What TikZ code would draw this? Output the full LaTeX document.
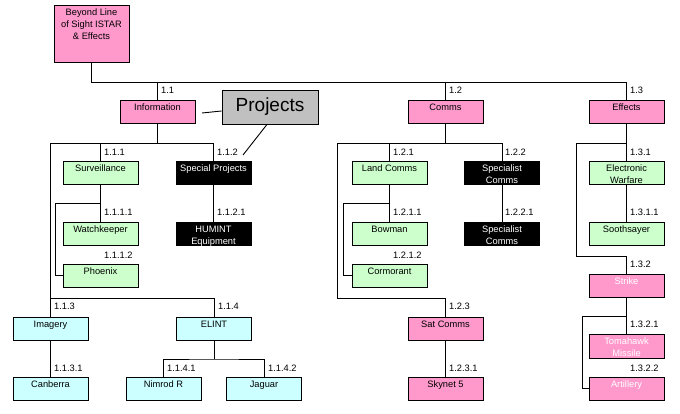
\documentclass[tikz,border=0pt]{standalone}
\usepackage{fontspec}
\setmainfont{Liberation Sans}
\definecolor{pinkc}{HTML}{FF99CC}
\definecolor{greenc}{HTML}{CCFFCC}
\definecolor{cyanc}{HTML}{CCFFFF}
\definecolor{grayc}{HTML}{C0C0C0}
\newcommand{\bxt}[2][23pt]{\parbox[c][#1][t]{74pt}{\centering\rule{0pt}{10.5pt}#2}}
\begin{document}
\begin{tikzpicture}[x=1pt,y=-1pt,
  box/.style={draw=black, line width=0.9pt, inner sep=0pt, minimum width=75pt, minimum height=23pt, font=\fontsize{9.3}{12}\selectfont},
  pinkb/.style={box, fill=pinkc},
  pinkw/.style={box, fill=pinkc, text=white},
  greenb/.style={box, fill=greenc},
  cyanb/.style={box, fill=cyanc},
  blackb/.style={box, fill=black, text=white},
  num/.style={anchor=west, inner sep=0pt, font=\fontsize{9.3}{12}\selectfont},
  conn/.style={line width=0.9pt}]
\useasboundingbox (0,0) rectangle (680,414);
% nodes
\node[pinkb] (root) at (91.5,33.5) {\bxt[57pt]{Beyond Line\\of Sight ISTAR\\\& Effects}};
\node[pinkb] (info) at (157.5,111.5) {\bxt{Information}};
\node[pinkb] (comms) at (445.5,111.5) {\bxt{Comms}};
\node[pinkb] (effects) at (626.5,111.5) {\bxt{Effects}};
\node[draw=black, fill=grayc, line width=0.9pt, minimum width=96pt, minimum height=34pt, inner sep=0pt, font=\fontsize{19}{22}\selectfont] (proj) at (270,107) {Projects};
% information subtree
\node[greenb] (surv) at (100.5,172.5) {\bxt{Surveillance}};
\node[blackb] (spec) at (213.5,172.5) {\bxt{Special Projects}};
\node[greenb] (watch) at (100.5,233.5) {\bxt{Watchkeeper}};
\node[blackb] (humint) at (213.5,233.5) {\bxt{HUMINT\\Equipment}};
\node[greenb] (phoenix) at (100.5,275.5) {\bxt{Phoenix}};
\node[cyanb] (imagery) at (50.5,328.5) {\bxt{Imagery}};
\node[cyanb] (elint) at (214,328.5) {\bxt{ELINT}};
\node[cyanb] (canberra) at (50.5,388.5) {\bxt{Canberra}};
\node[cyanb] (nimrod) at (163.5,388.5) {\bxt{Nimrod R}};
\node[cyanb] (jaguar) at (264,388.5) {\bxt{Jaguar}};
% comms subtree
\node[greenb] (land) at (389.5,172.5) {\bxt{Land Comms}};
\node[blackb] (spc1) at (502,172.5) {\bxt{Specialist\\Comms}};
\node[greenb] (bowman) at (389.5,233.5) {\bxt{Bowman}};
\node[blackb] (spc2) at (502,233.5) {\bxt{Specialist\\Comms}};
\node[greenb] (cormorant) at (389.5,275.5) {\bxt{Cormorant}};
\node[pinkb] (satcomms) at (445.5,328.5) {\bxt{Sat Comms}};
\node[pinkb] (skynet) at (445.5,388.5) {\bxt{Skynet 5}};
% effects subtree
\node[greenb] (ew) at (626.5,172.5) {\bxt{Electronic\\Warfare}};
\node[greenb] (sooth) at (626.5,233.5) {\bxt{Soothsayer}};
\node[pinkw] (strike) at (626.5,285.5) {\bxt{Strike}};
\node[pinkw, minimum height=24pt] (tomahawk) at (626.5,346) {\bxt[24pt]{Tomahawk\\Missile}};
\node[pinkw] (artillery) at (626.5,388.5) {\bxt{Artillery}};
% number labels
\node[num] (n11) at (161,90) {1.1};
\node[num] (n12) at (449,90) {1.2};
\node[num] (n13) at (630,90) {1.3};
\node[num] (n111) at (104,152) {1.1.1};
\node[num] (n112) at (217,152) {1.1.2};
\node[num] (n1111) at (104,212) {1.1.1.1};
\node[num] (n1121) at (217,212) {1.1.2.1};
\node[num] (n1112) at (104,255) {1.1.1.2};
\node[num] (n113) at (54,306) {1.1.3};
\node[num] (n114) at (218,306) {1.1.4};
\node[num] (n1131) at (54,368) {1.1.3.1};
\node[num] (n1141) at (167,368) {1.1.4.1};
\node[num] (n1142) at (268,368) {1.1.4.2};
\node[num] (n121) at (393,152) {1.2.1};
\node[num] (n122) at (505,152) {1.2.2};
\node[num] (n1211) at (393,212) {1.2.1.1};
\node[num] (n1221) at (505,212) {1.2.2.1};
\node[num] (n1212) at (393,255) {1.2.1.2};
\node[num] (n123) at (449,306) {1.2.3};
\node[num] (n1231) at (449,368) {1.2.3.1};
\node[num] (n131) at (630,152) {1.3.1};
\node[num] (n1311) at (630,212) {1.3.1.1};
\node[num] (n132) at (630,264) {1.3.2};
\node[num] (n1321) at (630,324) {1.3.2.1};
\node[num] (n1322) at (630,368) {1.3.2.2};
% coordinates
\coordinate (b1) at (91.5,82);
\coordinate (b11) at (50.5,143);
\coordinate (b12) at (50.5,298);
\coordinate (s11) at (55,203);
\coordinate (e1) at (0,359);
\coordinate (b21) at (337,143);
\coordinate (b22) at (337,298);
\coordinate (s21) at (343,203);
\coordinate (b31) at (576,143);
\coordinate (b32) at (576,256);
\coordinate (s31) at (582,316);
\coordinate (pa) at (202,113);
\coordinate (pb) at (243,155);
% connectors
\begin{scope}[conn]
\draw (root.south) -- (b1) -| (effects.north);
\draw (info.north) -- (info.north |- b1);
\draw (comms.north) -- (comms.north |- b1);
% info
\draw (info.south) -- (info.south |- b11);
\draw (spec.north) |- (b11) -- (b12) -| (elint.north);
\draw (surv.north) -- (surv.north |- b11);
\draw (imagery.north) -- (imagery.north |- b12);
\draw (surv.south) -- (watch.north);
\draw (surv.south |- s11) -- (s11) |- (phoenix.west);
\draw (spec.south) -- (humint.north);
\draw (imagery.south) -- (canberra.north);
\draw (elint.south) -- (elint.south |- e1);
\draw (nimrod.north) |- (elint.south |- e1) -| (jaguar.north);
% comms
\draw (comms.south) -- (comms.south |- b21);
\draw (spc1.north) |- (b21) -- (b22) -| (satcomms.north);
\draw (land.north) -- (land.north |- b21);
\draw (land.south) -- (bowman.north);
\draw (land.south |- s21) -- (s21) |- (cormorant.west);
\draw (spc1.south) -- (spc2.north);
\draw (satcomms.south) -- (skynet.north);
% effects
\draw (effects.south) -- (effects.south |- b31) -- (b31) -- (b32) -| (strike.north);
\draw (ew.north) -- (ew.north |- b31);
\draw (ew.south) -- (sooth.north);
\draw (strike.south) -- (tomahawk.north);
\draw (strike.south |- s31) -- (s31) |- (artillery.west);
% projects
\draw (pa) -- ([yshift=-4pt]proj.west);
\draw ([xshift=-3pt]proj.south) -- (pb);
\end{scope}
\end{tikzpicture}
\end{document}
